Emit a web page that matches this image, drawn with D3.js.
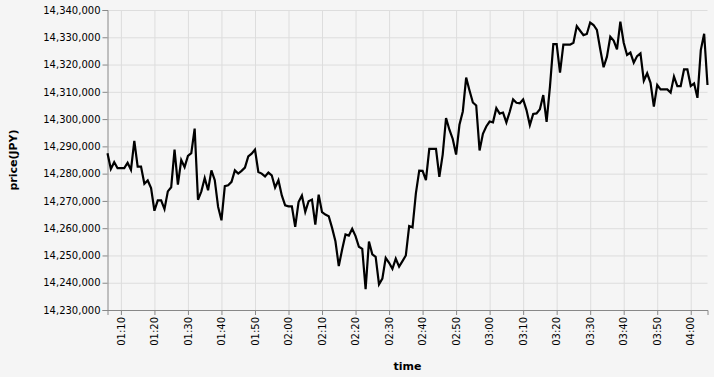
<!DOCTYPE html>
<html>
<head>
<meta charset="utf-8">
<script src="https://cdn.jsdelivr.net/npm/d3@7"></script>
<style>
  body { margin: 0; background: #f5f5f5; }
  text { font-family: "DejaVu Sans", sans-serif; }
</style>
</head>
<body>
<div id="chart"></div>
<script>
// price per minute (JPY), first point at 01:06
var startTime = "2024-01-01T01:06:00";
var prices = [
  14287500, 14281700, 14284200, 14282000, 14282000, 14282000, 14284000, 14281400, 14292000, 14282600,
  14282600, 14276300, 14277500, 14274700, 14266400, 14270200, 14270200, 14267000, 14273500, 14275000,
  14288800, 14276000, 14285000, 14282400, 14286500, 14287500, 14296500, 14270400, 14273500, 14278400,
  14273900, 14281200, 14277600, 14267800, 14262900, 14275400, 14275700, 14277000, 14281200, 14280000,
  14281000, 14282200, 14286300, 14287300, 14288800, 14280600, 14280000, 14279000, 14280400, 14279400,
  14274900, 14277600, 14272000, 14268400, 14268000, 14268000, 14260500, 14269600, 14272000, 14266000,
  14269900, 14270500, 14261300, 14272300, 14265900, 14265000, 14264400, 14260100, 14255200, 14246100,
  14252200, 14257700, 14257300, 14259800, 14257100, 14253200, 14252400, 14237600, 14255100, 14250400,
  14249500, 14239400, 14241500, 14249100, 14247300, 14245100, 14248800, 14245900, 14247900, 14250000,
  14260800, 14260300, 14272800, 14281100, 14281000, 14277600, 14289100, 14289100, 14289100, 14278800,
  14287000, 14300400, 14296100, 14292700, 14287000, 14297900, 14302800, 14315200, 14310500, 14306100,
  14305000, 14288500, 14294600, 14297300, 14299100, 14298800, 14304000, 14302000, 14302400, 14298800,
  14302700, 14307200, 14306000, 14305800, 14307200, 14303300, 14297800, 14301900, 14302100, 14303600,
  14308800, 14299000, 14311900, 14327500, 14327500, 14317000, 14327300, 14327300, 14327300, 14328000,
  14334100, 14332400, 14330800, 14331200, 14335400, 14334500, 14332700, 14325600, 14319000, 14322900,
  14330200, 14328800, 14325600, 14335700, 14328000, 14323500, 14324400, 14320700, 14323100, 14324100,
  14314100, 14316800, 14313300, 14304600, 14312500, 14310900, 14310900, 14310900, 14309700, 14315600,
  14312100, 14312100, 14318200, 14318200, 14312100, 14313100, 14307800, 14325300, 14331300, 14312500
];
var yTicks = [14230000, 14240000, 14250000, 14260000, 14270000, 14280000,
  14290000, 14300000, 14310000, 14320000, 14330000, 14340000];
var xTitle = "time";
var yTitle = "price(JPY)";

var svgWidth = 714;
var svgHeight = 377;
var margin = { top: 10, right: 6.5, bottom: 67, left: 107.5 };
var width = svgWidth - margin.left - margin.right;
var height = svgHeight - margin.top - margin.bottom;

var t0 = new Date(startTime);
var data = prices.map(function(p, i) {
  return { time: d3.timeMinute.offset(t0, i), price: p };
});

var svg = d3.select("#chart")
  .append("svg")
  .attr("width", svgWidth)
  .attr("height", svgHeight)
  .style("background", "#f5f5f5");

var chartGroup = svg.append("g")
  .attr("transform", `translate(${margin.left}, ${margin.top})`);

var xScale = d3.scaleTime()
  .domain(d3.extent(data, d => d.time))
  .range([0, width]);

var yScale = d3.scaleLinear()
  .domain([yTicks[0], yTicks[yTicks.length - 1]])
  .range([height, 0]);

var xTickValues = d3.timeMinute.every(10).range(xScale.domain()[0], xScale.domain()[1]);

// grid
chartGroup.append("g")
  .selectAll("line")
  .data(xTickValues)
  .enter()
  .append("line")
  .attr("x1", d => xScale(d) + 0.5)
  .attr("x2", d => xScale(d) + 0.5)
  .attr("y1", 0)
  .attr("y2", height)
  .attr("stroke", "#ddd");

chartGroup.append("g")
  .selectAll("line")
  .data(yTicks)
  .enter()
  .append("line")
  .attr("x1", 0)
  .attr("x2", width)
  .attr("y1", d => yScale(d) + 0.5)
  .attr("y2", d => yScale(d) + 0.5)
  .attr("stroke", "#ddd");

// axes
var bottomAxis = d3.axisBottom(xScale)
  .tickValues(xTickValues)
  .tickFormat(d3.timeFormat("%H:%M"))
  .tickSizeOuter(0)
  .tickSize(5);

var leftAxis = d3.axisLeft(yScale)
  .tickValues(yTicks)
  .tickFormat(d3.format(","))
  .tickSizeOuter(0)
  .tickSize(5)
  .tickPadding(2);

var xAxis = chartGroup.append("g")
  .attr("transform", `translate(0, ${height})`)
  .call(bottomAxis);

xAxis.selectAll("text")
  .attr("transform", "rotate(-90)")
  .attr("x", -7)
  .attr("y", 0)
  .attr("dy", "0.32em")
  .style("text-anchor", "end");

var yAxis = chartGroup.append("g")
  .call(leftAxis);

[xAxis, yAxis].forEach(function(ax) {
  ax.select(".domain").attr("stroke", "#888");
  ax.selectAll(".tick line").attr("stroke", "#888");
  ax.selectAll(".tick text")
    .attr("fill", "#000")
    .attr("font-size", "10px")
    .attr("font-family", "DejaVu Sans, sans-serif");
});

// line
var line = d3.line()
  .x(d => xScale(d.time))
  .y(d => yScale(d.price));

chartGroup.append("path")
  .datum(data)
  .attr("fill", "none")
  .attr("stroke", "#000")
  .attr("stroke-width", 2.2)
  .attr("stroke-linejoin", "miter")
  .attr("d", line);

// titles
chartGroup.append("text")
  .attr("x", width / 2)
  .attr("y", height + 60)
  .attr("text-anchor", "middle")
  .attr("font-size", "11px")
  .attr("font-weight", "bold")
  .attr("fill", "#000")
  .text(xTitle);

chartGroup.append("text")
  .attr("transform", `translate(${-91}, ${height / 2}) rotate(-90)`)
  .attr("text-anchor", "middle")
  .attr("font-size", "11px")
  .attr("font-weight", "bold")
  .attr("fill", "#000")
  .text(yTitle);
</script>
</body>
</html>
